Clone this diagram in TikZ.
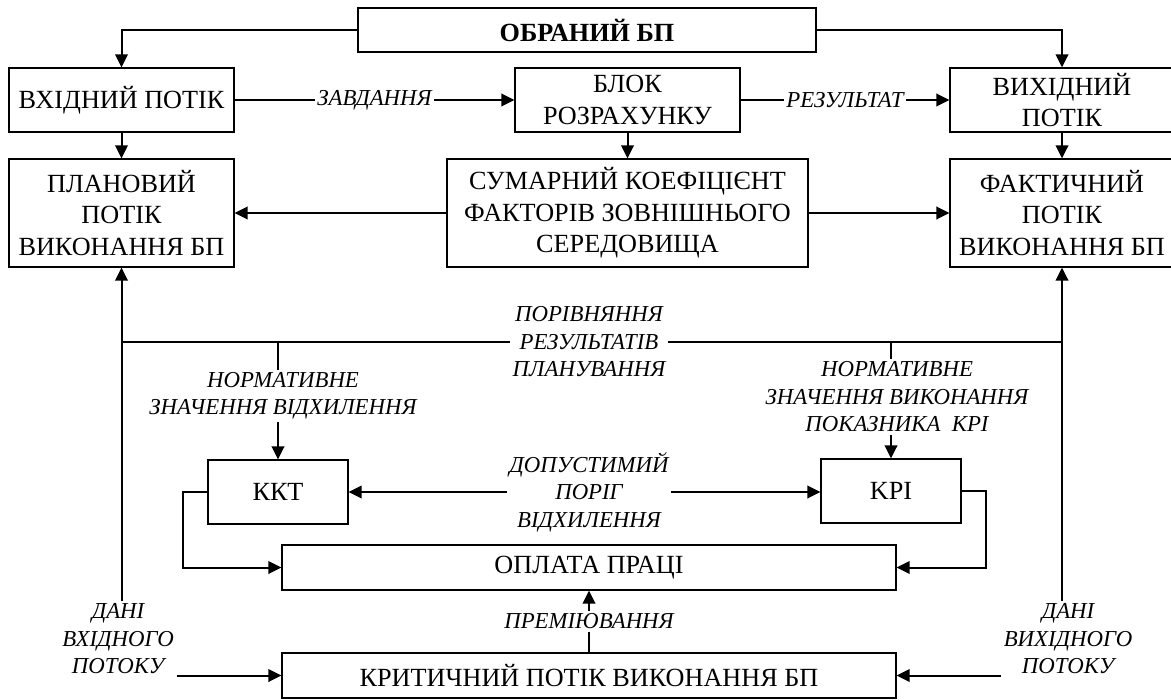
\documentclass[tikz,border=0pt]{standalone}
\usepackage{fontspec}
\setmainfont{Liberation Serif}
\usetikzlibrary{arrows.meta}
\begin{document}
\begin{tikzpicture}[x=0.5pt,y=-0.5pt,
  box/.style={draw, line width=0.65pt, align=center, inner sep=0pt,
    font=\fontsize{13.1}{15.8}\selectfont},
  lbl/.style={align=center, fill=white, inner sep=1.2pt,
    font=\fontsize{11.4}{13.75}\selectfont\itshape},
  conn/.style={line width=1pt},
  arr/.style={conn, -{Triangle[length=6.5pt,width=6.3pt]}}]
\useasboundingbox (0,0) rectangle (1171,700);

% blocks
\node[box, minimum width=229pt, minimum height=22pt, font=\fontsize{13.1}{15.8}\selectfont\bfseries]
  (sel) at (587,30) {ОБРАНИЙ БП};
\node[box, minimum width=112.5pt, minimum height=32pt] (inp) at (121.5,100) {ВХІДНИЙ ПОТІК};
\node[box, minimum width=112.5pt, minimum height=32pt] (calc) at (627.5,100) {БЛОК\\РОЗРАХУНКУ};
\node[box, minimum width=112pt, minimum height=32pt] (out) at (1062,100) {ВИХІДНИЙ\\ПОТІК};
\node[box, minimum width=112.5pt, minimum height=54pt] (plan) at (121.5,213) {ПЛАНОВИЙ\\ПОТІК\\ВИКОНАННЯ БП};
\node[box, minimum width=180.5pt, minimum height=54pt] (coef) at (627.5,213) {СУМАРНИЙ КОЕФІЦІЄНТ\\ФАКТОРІВ ЗОВНІШНЬОГО\\СЕРЕДОВИЩА};
\node[box, minimum width=112pt, minimum height=54pt] (fact) at (1062,213) {ФАКТИЧНИЙ\\ПОТІК\\ВИКОНАННЯ БП};
\node[box, minimum width=70pt, minimum height=32pt] (kkt) at (278,492) {ККТ};
\node[box, minimum width=70pt, minimum height=32pt] (kpi) at (891,491) {KPI};
\node[box, minimum width=307pt, minimum height=22.5pt] (pay) at (589,567.5) {ОПЛАТА ПРАЦІ};
\node[box, minimum width=307pt, minimum height=22.5pt] (crit) at (589,675.5) {КРИТИЧНИЙ ПОТІК ВИКОНАННЯ БП};

% upper flows
\draw[arr] (sel.west) -| (inp.north);
\draw[arr] (sel.east) -| (out.north);
\draw[arr] (inp) -- node[lbl] {ЗАВДАННЯ} (calc);
\draw[arr] (calc.east) -- node[lbl] {РЕЗУЛЬТАТ} (calc.east -| out.west);
\draw[arr] (inp) -- (plan);
\draw[arr] (calc) -- (coef);
\draw[arr] (out) -- (fact);
\draw[arr] (coef) -- (plan);
\draw[arr] (coef) -- (fact);

% comparison bus
\coordinate (busl) at (plan.south |- 0,342);
\coordinate (busr) at (fact.south |- 0,342);
\draw[conn] (busl) -- (busr);
\node[lbl] (cmp) at (589,342) {ПОРІВНЯННЯ\\РЕЗУЛЬТАТІВ\\ПЛАНУВАННЯ};

% data inputs
\node[lbl] (din) at (118,639) {ДАНІ\\ВХІДНОГО\\ПОТОКУ};
\node[lbl] (dout) at (1068,639) {ДАНІ\\ВИХІДНОГО\\ПОТОКУ};
\draw[arr] (plan.south |- din.north) -- (plan.south);
\draw[arr] (fact.south |- dout.north) -- (fact.south);
\draw[arr] (din.east |- crit.west) -- (crit.west);
\draw[arr] (dout.west |- crit.east) -- (crit.east);

% normative values
\node[lbl] (nkkt) at (283,396) {НОРМАТИВНЕ\\ЗНАЧЕННЯ ВІДХИЛЕННЯ};
\node[lbl] (nkpi) at (897,397) {НОРМАТИВНЕ\\ЗНАЧЕННЯ ВИКОНАННЯ\\ПОКАЗНИКА\enspace KPI};
\draw[conn] (kkt.north |- busl) -- (kkt.north |- nkkt.north);
\draw[arr] (kkt.north |- nkkt.south) -- (kkt.north);
\draw[conn] (kpi.north |- busl) -- (kpi.north |- nkpi.north);
\draw[arr] (kpi.north |- nkpi.south) -- (kpi.north);

% threshold
\node[lbl] (thr) at (589,492) {ДОПУСТИМИЙ\\ПОРІГ\\ВІДХИЛЕННЯ};
\draw[arr] (thr.west) -- (thr.west -| kkt.east);
\draw[arr] (thr.east) -- (thr.east -| kpi.west);

% payment
\draw[arr] (kkt.west) -- ++(-24,0) |- (pay.west);
\draw[arr] (kpi.east) -- ++(24,0) |- (pay.east);
\draw[arr] (crit.north) -- node[lbl] {ПРЕМІЮВАННЯ} (pay.south);
\end{tikzpicture}
\end{document}
